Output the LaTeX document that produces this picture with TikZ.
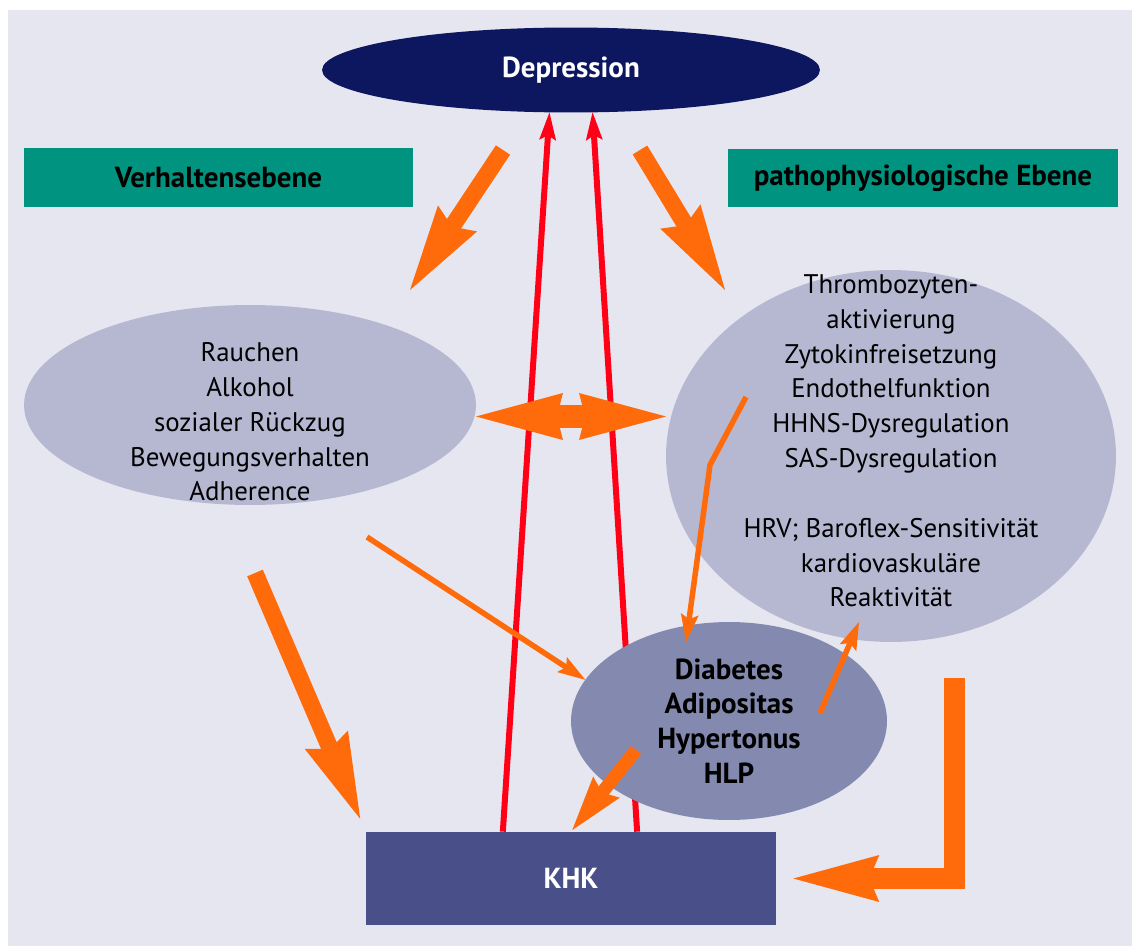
\documentclass[tikz,border=0pt]{standalone}
\usepackage{fontspec}
\setmainfont{PT Sans}
\usetikzlibrary{arrows.meta, positioning, calc, shapes.geometric}

\definecolor{bgcol}{RGB}{230,230,240}
\definecolor{depnavy}{RGB}{13,23,96}
\definecolor{levelgreen}{RGB}{0,148,128}
\definecolor{ellgray}{RGB}{182,184,210}
\definecolor{riskgray}{RGB}{132,137,175}
\definecolor{khkblue}{RGB}{73,80,137}
\definecolor{arrorange}{RGB}{255,106,10}
\definecolor{arrred}{RGB}{255,0,22}

\tikzset{
  ell/.style={ellipse, fill=ellgray, inner sep=0pt, outer sep=0pt},
  boldtext/.style={font=\bfseries\fontsize{16.5}{19.8}\selectfont},
  levelbox/.style={rectangle, fill=levelgreen, minimum width=7.8cm, minimum height=1.18cm, boldtext},
  fatarrow/.style={draw=arrorange, line width=0.34cm,
    -{Stealth[length=1.72cm, width=0.94cm, inset=0.2cm, line width=0pt]}},
  midarrow/.style={draw=arrorange, line width=0.26cm,
    -{Stealth[length=1.1cm, width=0.68cm, inset=0.14cm, line width=0pt]}},
  thinarrow/.style={draw=arrorange, line width=0.11cm,
    -{Stealth[length=0.56cm, width=0.36cm, inset=0.1cm, line width=0pt]}},
  redarrow/.style={draw=arrred, line width=0.12cm,
    -{Stealth[length=0.56cm, width=0.34cm, inset=0.1cm, line width=0pt]}},
}

\begin{document}
\begin{tikzpicture}[x=0.02cm, y=-0.02cm, font=\fontsize{15.3}{19.8}\selectfont]
  \useasboundingbox (0,0) rectangle (1132,946);
  \fill[bgcol] (8,10) rectangle (1132,946);

  % Top row
  \node[ell, fill=depnavy, minimum width=9.96cm, minimum height=1.7cm, text=white, boldtext] (dep) at (571,70) {Depression};
  \node[levelbox] (verh) at (218.5,177.5) {Verhaltensebene};
  \node[levelbox] (patho) at (923,178) {pathophysiologische Ebene};

  % The two levels
  \node[ell, minimum width=9.04cm, minimum height=4cm] (lell) at (250,405) {};
  \node[ell, minimum width=9.0cm, minimum height=7.44cm] (rell) at (891,456) {};
  \node[align=center] (ltxt) at (250,422) {Rauchen\\Alkohol\\sozialer Rückzug\\Bewegungsverhalten\\Adherence};
  \node[align=center] (rtxt) at (891,441) {Thrombozyten-\\aktivierung\\Zytokinfreisetzung\\Endothelfunktion\\HHNS-Dysregulation\\SAS-Dysregulation\\[0.7cm]HRV; Baroflex-Sensitivität\\kardiovaskuläre\\Reaktivität};

  % KHK and the way back to Depression (red)
  \node[rectangle, fill=khkblue, minimum width=8.2cm, minimum height=1.86cm, text=white, boldtext] (khk) at (571,878.5) {KHK};
  \draw[redarrow] ($(khk.north west)!0.334!(khk.north east)$) -- (dep.243);
  \draw[redarrow] ($(khk.north west)!0.661!(khk.north east)$) -- (dep.297);

  % Risk factors
  \node[ell, fill=riskgray, minimum width=6.32cm, minimum height=3.96cm, align=center, boldtext] (risk) at (729,721) {Diabetes\\Adipositas\\Hypertonus\\HLP};

  % free ends of the orange arrows
  \coordinate (dlA) at (503,150);
  \coordinate (dlB) at (410,290);
  \coordinate (drA) at (640,150);
  \coordinate (drB) at (725,290);
  \coordinate (lkA) at (255,573);
  \coordinate (lrA) at (367,537);
  \coordinate (rrA) at (746,397);
  \coordinate (rrK) at (710,465);
  \coordinate (rrB) at (686,642);
  \coordinate (rsA) at (820,713);
  \coordinate (rsB) at (859,622);
  \coordinate (rkA) at (636,750);
  \coordinate (bkA) at (954.5,678);

  % Orange arrows
  \draw[fatarrow] (dlA) -- (dlB);
  \draw[fatarrow] (drA) -- (drB);
  \draw[draw=arrorange, line width=0.46cm,
    {Stealth[length=1.74cm, width=0.94cm, inset=0.12cm, line width=0pt]}-{Stealth[length=1.74cm, width=0.94cm, inset=0.12cm, line width=0pt]}]
    ([yshift=-0.23cm]lell.east) -- ([yshift=-0.23cm]lell.east -| rell.west);
  \draw[fatarrow, shorten >=0.28cm] (lkA) -- (khk.north west);
  \draw[thinarrow] (lrA) -- (risk.164);
  \draw[thinarrow] (rrA) -- (rrK) -- (rrB);
  \draw[thinarrow] (rsA) -- (rsB);
  \draw[midarrow, shorten >=0.04cm] (rkA) -- (khk.north);
  \draw[fatarrow, line width=0.42cm, line join=miter, shorten >=0.34cm] (bkA) |- (khk.east);
\end{tikzpicture}
\end{document}
